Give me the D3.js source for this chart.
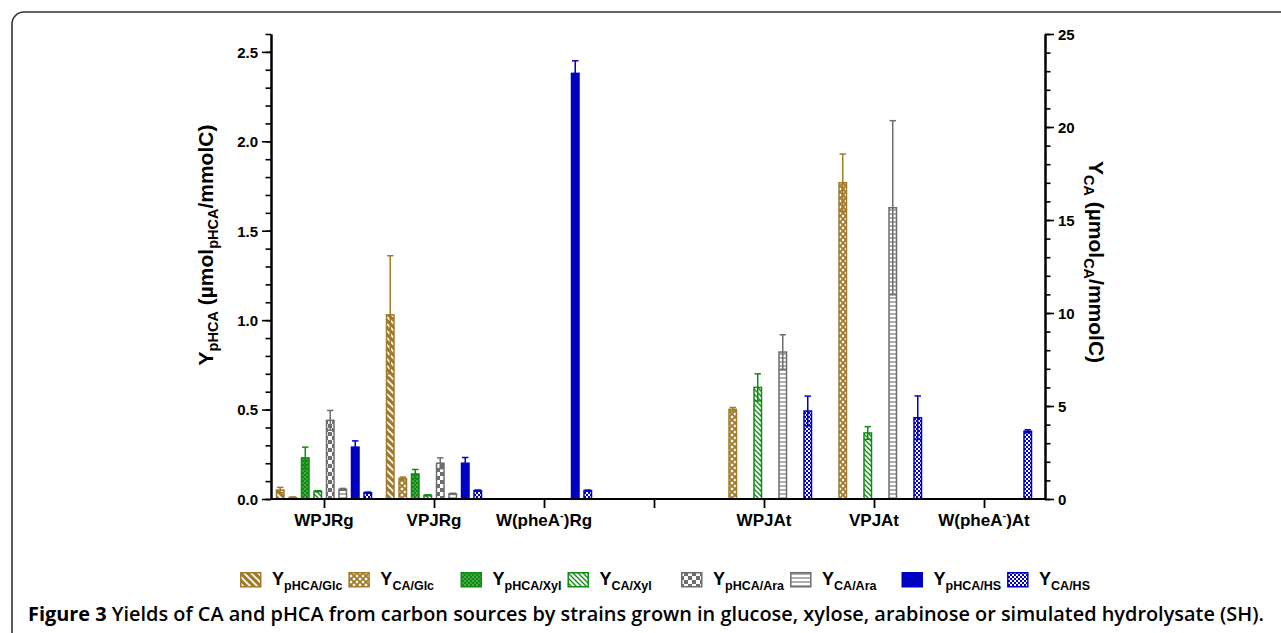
<!DOCTYPE html>
<html><head><meta charset="utf-8">
<script src="https://cdn.jsdelivr.net/npm/d3@7"></script>
<style>body{margin:0;background:#fff} svg{display:block}</style>
</head><body>
<svg id="c" width="1281" height="633"></svg>
<script>
// ---------- DATA ----------
const groups = ["WPJRg","VPJRg","W(pheA-)Rg","gap","WPJAt","VPJAt","W(pheA-)At"];
const groupLabels = [["WPJRg"],["VPJRg"],["W(pheA","-",")Rg"],[""],["WPJAt"],["VPJAt"],["W(pheA","-",")At"]];
const seriesKeys = ["pHCA_Glc","CA_Glc","pHCA_Xyl","CA_Xyl","pHCA_Ara","CA_Ara","pHCA_HS","CA_HS"];
const seriesSub  = ["pHCA/Glc","CA/Glc","pHCA/Xyl","CA/Xyl","pHCA/Ara","CA/Ara","pHCA/HS","CA/HS"];
const seriesAxis = ["left","right","left","right","left","right","left","right"];
const seriesColor = ["#A27A2C","#A27A2C","#0E8C12","#0E8C12","#6E6E6E","#6E6E6E","#0000C4","#0000C4"];

const pHCA_Glc = [0.05, 1.03, null, null, null, null, null];
const CA_Glc   = [0.08, 1.10, null, null, 4.82, 17.0, null];
const pHCA_Xyl = [0.23, 0.14, null, null, null, null, null];
const CA_Xyl   = [0.42, 0.20, null, null, 6.00, 3.55, null];
const pHCA_Ara = [0.44, 0.20, null, null, null, null, null];
const CA_Ara   = [0.52, 0.28, null, null, 7.90, 15.66, null];
const pHCA_HS  = [0.29, 0.20, 2.38, null, null, null, null];
const CA_HS    = [0.34, 0.45, 0.45, null, 4.73, 4.37, 3.64];

const pHCA_Glc_err = [0.015, 0.33, null, null, null, null, null];
const CA_Glc_err   = [0.03, 0.08, null, null, 0.10, 1.55, null];
const pHCA_Xyl_err = [0.06, 0.025, null, null, null, null, null];
const CA_Xyl_err   = [0.03, 0.03, null, null, 0.73, 0.34, null];
const pHCA_Ara_err = [0.055, 0.03, null, null, null, null, null];
const CA_Ara_err   = [0.05, 0.03, null, null, 0.93, 4.68, null];
const pHCA_HS_err  = [0.035, 0.032, 0.07, null, null, null, null];
const CA_HS_err    = [0.03, 0.03, 0.03, null, 0.80, 1.17, 0.08];

const leftTicks = [0, 0.5, 1.0, 1.5, 2.0, 2.5];
const leftMinor = d3.range(0, 27).map(i => i / 10);
const rightTicks = [0, 5, 10, 15, 20, 25];
const rightMinor = d3.range(0, 26);

const valuesByKey = {pHCA_Glc, CA_Glc, pHCA_Xyl, CA_Xyl, pHCA_Ara, CA_Ara, pHCA_HS, CA_HS};
const errByKey = {pHCA_Glc: pHCA_Glc_err, CA_Glc: CA_Glc_err, pHCA_Xyl: pHCA_Xyl_err, CA_Xyl: CA_Xyl_err,
  pHCA_Ara: pHCA_Ara_err, CA_Ara: CA_Ara_err, pHCA_HS: pHCA_HS_err, CA_HS: CA_HS_err};

// ---------- LAYOUT ----------
const svg = d3.select("#c");
const FONT = "'Liberation Sans', Arial, sans-serif";
const axL = 271, axR = 1045, y0 = 499, yTop = 34;

// frame
svg.append("rect").attr("x", 12).attr("y", 12).attr("width", 1320).attr("height", 700)
  .attr("rx", 12).attr("fill", "none").attr("stroke", "#333").attr("stroke-width", 1.6);

// patterns
const defs = svg.append("defs");
function pat(id, w, h, build) {
  const p = defs.append("pattern").attr("id", id).attr("patternUnits", "userSpaceOnUse")
    .attr("width", w).attr("height", h);
  build(p);
}
const brown = seriesColor[0], green = seriesColor[2], gray = seriesColor[4], blue = seriesColor[6];
pat("p0", 7, 7, p => {
  p.append("rect").attr("width", 7).attr("height", 7).attr("fill", brown);
  p.append("path").attr("d", "M-1,-1L8,8M-1,6L1,8M6,-1L8,1").attr("stroke", "#fff").attr("stroke-width", 1.7);
});
pat("p1", 6, 6, p => {
  p.append("rect").attr("width", 6).attr("height", 6).attr("fill", "#fff");
  p.append("path").attr("d", "M-1,-1L7,7M7,-1L-1,7").attr("stroke", brown).attr("stroke-width", 1.9);
});
pat("p2", 4, 4, p => {
  p.append("rect").attr("width", 4).attr("height", 4).attr("fill", green);
  p.append("rect").attr("x", 0.5).attr("y", 0.5).attr("width", 1).attr("height", 1).attr("fill", "#fff");
  p.append("rect").attr("x", 2.5).attr("y", 2.5).attr("width", 1).attr("height", 1).attr("fill", "#cfe8cf");
});
pat("p3", 5, 5, p => {
  p.append("rect").attr("width", 5).attr("height", 5).attr("fill", "#fff");
  p.append("path").attr("d", "M-1,-1L6,6M-1,4L1,6M4,-1L6,1").attr("stroke", green).attr("stroke-width", 1.3);
});
pat("p4", 8, 8, p => {
  p.append("rect").attr("width", 8).attr("height", 8).attr("fill", "#fff");
  p.append("rect").attr("width", 4).attr("height", 4).attr("fill", gray);
  p.append("rect").attr("x", 4).attr("y", 4).attr("width", 4).attr("height", 4).attr("fill", gray);
});
pat("p5", 4, 4, p => {
  p.append("rect").attr("width", 4).attr("height", 4).attr("fill", "#fff");
  p.append("path").attr("d", "M0,2H4").attr("stroke", gray).attr("stroke-width", 1.1);
});
pat("p7", 4, 4, p => {
  p.append("rect").attr("width", 4).attr("height", 4).attr("fill", "#fff");
  p.append("rect").attr("width", 2).attr("height", 2).attr("fill", blue);
  p.append("rect").attr("x", 2).attr("y", 2).attr("width", 2).attr("height", 2).attr("fill", blue);
});
const fills = ["url(#p0)", "url(#p1)", "url(#p2)", "url(#p3)", "url(#p4)", "url(#p5)", blue, "url(#p7)"];

// scales
const yL = d3.scaleLinear().domain([0, 2.6]).range([y0, yTop]);
const yR = d3.scaleLinear().domain([0, 25]).range([y0, yTop]);
const xG = d3.scalePoint().domain(groups).range([324, 984]);
const xS = d3.scaleBand().domain(seriesKeys).range([-50, 50]).paddingInner(0.28).paddingOuter(0.14);

// bars
const barData = [];
seriesKeys.forEach((k, si) => {
  groups.forEach((g, gi) => {
    const v = valuesByKey[k][gi];
    if (v == null) return;
    barData.push({k, si, g, v, e: errByKey[k][gi], ys: seriesAxis[si] === "left" ? yL : yR});
  });
});
const bw = xS.bandwidth();
const barG = svg.append("g");
barG.selectAll("rect.bar").data(barData).enter().append("rect")
  .attr("class", "bar")
  .attr("x", d => xG(d.g) + xS(d.k) + 0.75)
  .attr("width", bw - 1.5)
  .attr("y", d => d.ys(d.v))
  .attr("height", d => Math.max(0, y0 - d.ys(d.v)))
  .attr("fill", d => fills[d.si])
  .attr("stroke", d => seriesColor[d.si])
  .attr("stroke-width", 1.5);

// error bars
const errG = svg.append("g");
barData.filter(d => d.e).forEach(d => {
  const cx = xG(d.g) + xS(d.k) + bw / 2;
  const yt = d.ys(d.v + d.e), yb = d.ys(Math.max(0, d.v - d.e));
  const c = seriesColor[d.si];
  errG.append("line").attr("x1", cx).attr("x2", cx).attr("y1", yt).attr("y2", yb)
    .attr("stroke", c).attr("stroke-width", 1.5);
  [yt, yb].forEach(yy => errG.append("line").attr("x1", cx - 3.2).attr("x2", cx + 3.2)
    .attr("y1", yy).attr("y2", yy).attr("stroke", c).attr("stroke-width", 1.5));
});

// axes
function styleAxis(g, size) {
  g.selectAll("path.domain").attr("stroke", "#000").attr("stroke-width", 2);
  g.selectAll(".tick line").attr("stroke", "#000").attr("stroke-width", 1.6);
  g.selectAll("text").attr("font-family", FONT).attr("font-weight", "bold")
    .attr("font-size", size).attr("fill", "#000");
}
const gLm = svg.append("g").attr("transform", `translate(${axL},0)`)
  .call(d3.axisLeft(yL).tickValues(leftMinor).tickSize(5.5).tickFormat("").tickSizeOuter(0));
styleAxis(gLm, 15);
const gL = svg.append("g").attr("transform", `translate(${axL},0)`)
  .call(d3.axisLeft(yL).tickValues(leftTicks).tickSize(9).tickPadding(4).tickFormat(d3.format(".1f")).tickSizeOuter(0));
styleAxis(gL, 15);
gL.selectAll("text").attr("dy", "0.36em");

const gRm = svg.append("g").attr("transform", `translate(${axR},0)`)
  .call(d3.axisRight(yR).tickValues(rightMinor).tickSize(5.5).tickFormat("").tickSizeOuter(0));
styleAxis(gRm, 15);
const gR = svg.append("g").attr("transform", `translate(${axR},0)`)
  .call(d3.axisRight(yR).tickValues(rightTicks).tickSize(9).tickPadding(4).tickFormat(d3.format("d")).tickSizeOuter(0));
styleAxis(gR, 15);
gR.selectAll("text").attr("dy", "0.36em");

// x axis
svg.append("line").attr("x1", axL).attr("x2", axR).attr("y1", y0).attr("y2", y0)
  .attr("stroke", "#000").attr("stroke-width", 2);
const gX = svg.append("g").attr("transform", `translate(0,${y0})`)
  .call(d3.axisBottom(xG).tickSize(9).tickFormat("").tickSizeOuter(0));
gX.select("path.domain").remove();
gX.selectAll(".tick line").attr("stroke", "#000").attr("stroke-width", 1.8);
const xl = svg.append("g").selectAll("text").data(groups).enter().append("text")
  .attr("x", d => xG(d)).attr("y", 526).attr("text-anchor", "middle")
  .attr("font-family", FONT).attr("font-weight", "bold").attr("font-size", 17).attr("fill", "#000");
xl.each(function(d, i) {
  const parts = groupLabels[i];
  const t = d3.select(this);
  if (parts.length === 1) { t.text(parts[0]); return; }
  t.append("tspan").text(parts[0]);
  t.append("tspan").attr("font-size", 11).attr("dy", -7).text(parts[1]);
  t.append("tspan").attr("dy", 7).text(parts[2]);
});

// axis titles
const tl = svg.append("text").attr("transform", "translate(213,245) rotate(-90)")
  .attr("text-anchor", "middle").attr("font-family", FONT).attr("font-weight", "bold")
  .attr("font-size", 21).attr("fill", "#000");
tl.append("tspan").text("Y");
tl.append("tspan").attr("font-size", 14.5).attr("dy", 5).text("pHCA");
tl.append("tspan").attr("dy", -5).text(" (\u00b5mol");
tl.append("tspan").attr("font-size", 14.5).attr("dy", 5).text("pHCA");
tl.append("tspan").attr("dy", -5).text("/mmolC)");

const tr = svg.append("text").attr("transform", "translate(1089,262) rotate(90)")
  .attr("text-anchor", "middle").attr("font-family", FONT).attr("font-weight", "bold")
  .attr("font-size", 21).attr("fill", "#000");
tr.append("tspan").text("Y");
tr.append("tspan").attr("font-size", 14.5).attr("dy", 5).text("CA");
tr.append("tspan").attr("dy", -5).text(" (\u00b5mol");
tr.append("tspan").attr("font-size", 14.5).attr("dy", 5).text("CA");
tr.append("tspan").attr("dy", -5).text("/mmolC)");

// legend
const lg = svg.append("g");
for (let p = 0; p < 4; p++) {
  let x = 240 + p * 220.5;
  for (let j = 0; j < 2; j++) {
    const si = p * 2 + j;
    lg.append("rect").attr("x", x + 0.75).attr("y", 572.75).attr("width", 20).attr("height", 14)
      .attr("fill", fills[si]).attr("stroke", seriesColor[si]).attr("stroke-width", 1.5);
    const t = lg.append("text").attr("x", x + 32).attr("y", 585)
      .attr("font-family", FONT).attr("font-weight", "bold").attr("font-size", 18).attr("fill", "#000");
    t.append("tspan").text("Y");
    t.append("tspan").attr("font-size", 12.5).attr("dy", 5).text(seriesSub[si]);
    x = x + 32 + t.node().getComputedTextLength() + 6;
  }
}

// caption
const cap = svg.append("text").attr("x", 28).attr("y", 621)
  .attr("font-family", "'Open Sans', 'Noto Sans', sans-serif").attr("font-size", 16).attr("fill", "#000");
cap.append("tspan").attr("font-weight", 700).text("Figure 3");
cap.append("tspan").attr("font-weight", 600).text(" Yields of CA and pHCA from carbon sources by strains grown in glucose, xylose, arabinose or simulated hydrolysate (SH).");
const cw = cap.node().getComputedTextLength();
cap.attr("font-size", 16 * 1237 / cw);
</script>
</body></html>
